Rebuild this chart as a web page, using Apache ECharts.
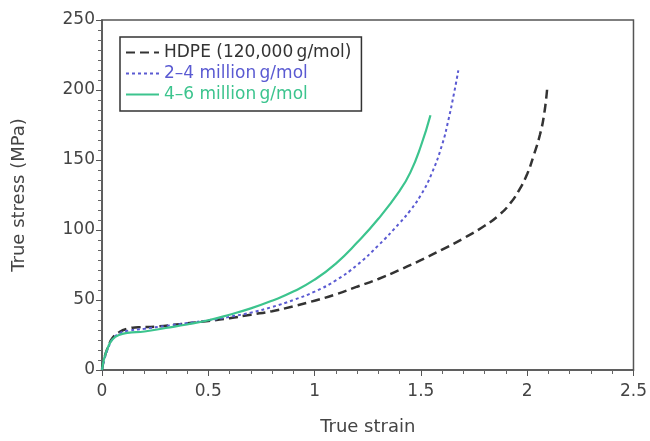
<!DOCTYPE html>
<html>
<head>
<meta charset="utf-8">
<script src="https://cdn.jsdelivr.net/npm/echarts@6/dist/echarts.min.js"></script>
<style>
  html, body { margin: 0; padding: 0; background: #fff; }
  #main { width: 650px; height: 441px; }
</style>
</head>
<body>
<div id="main"></div>
<script>
// curves: [true strain, true stress (MPa)]
const hdpe = [[0, 0], [0.01, 8], [0.03, 17], [0.05, 23], [0.08, 27], [0.12, 29.5], [0.17, 30.5],
  [0.25, 31], [0.35, 32.5], [0.5, 35], [0.6, 37], [0.7, 39.5], [0.8, 42], [0.9, 45.5],
  [1.0, 49.5], [1.1, 54], [1.2, 59.5], [1.3, 65], [1.4, 71.5], [1.5, 78.5], [1.6, 86],
  [1.7, 94], [1.8, 103], [1.87, 111], [1.92, 119], [1.96, 128], [2.0, 140], [2.03, 153],
  [2.06, 168], [2.08, 183], [2.094, 201]];
const mid = [[0, 0], [0.01, 7], [0.03, 16], [0.05, 22], [0.08, 26], [0.12, 28], [0.2, 29.5],
  [0.3, 31.5], [0.4, 33.5], [0.5, 35.5], [0.6, 38], [0.7, 41], [0.8, 45], [0.9, 50],
  [1.0, 56], [1.1, 64], [1.2, 75], [1.3, 89], [1.4, 105], [1.45, 114], [1.5, 125],
  [1.55, 140], [1.6, 161], [1.63, 179], [1.655, 197], [1.676, 214]];
const high = [[0, 0], [0.01, 8], [0.03, 17], [0.05, 22], [0.08, 25], [0.12, 26.5], [0.2, 27.5],
  [0.3, 30], [0.4, 32.5], [0.5, 35.5], [0.6, 39.5], [0.7, 44], [0.8, 49.5], [0.9, 56],
  [1.0, 64.5], [1.1, 76], [1.2, 91], [1.3, 108], [1.4, 128], [1.45, 141], [1.5, 160],
  [1.545, 182]];
const names = ['HDPE (120,000\u2009g/mol)', '2\u20134 million\u2009g/mol', '4\u20136 million\u2009g/mol'];
const colors = ['#333333', '#5a5ad2', '#3cc48e'];

const chart = echarts.init(document.getElementById('main'));
const font = 'DejaVu Sans';
const axisText = { color: '#444', fontSize: 17, fontFamily: font };

chart.setOption({
  animation: false,
  textStyle: { fontFamily: font },
  grid: { left: 102, right: 16, top: 20, bottom: 71, show: true, borderColor: '#555', borderWidth: 1.5 },
  legend: {
    orient: 'vertical',
    left: 120,
    top: 37,
    padding: [7, 10, 8, 5],
    itemGap: 4,
    itemWidth: 33,
    itemHeight: 14,
    borderColor: '#333',
    borderWidth: 1.5,
    itemStyle: { opacity: 0 },
    textStyle: { fontSize: 17, fontFamily: font },
    data: names.map((n, i) => ({ name: n, textStyle: { color: colors[i] } }))
  },
  xAxis: {
    type: 'value',
    min: 0,
    max: 2.5,
    interval: 0.5,
    name: 'True strain',
    nameLocation: 'middle',
    nameGap: 48,
    nameTextStyle: { color: '#444', fontSize: 18, fontFamily: font },
    axisLine: { lineStyle: { color: '#555', width: 1.5 } },
    axisTick: { show: true, length: 6, lineStyle: { color: '#555' } },
    minorTick: { show: true, splitNumber: 5, length: 4, lineStyle: { color: '#666' } },
    splitLine: { show: false },
    axisLabel: Object.assign({ margin: 13 }, axisText)
  },
  yAxis: {
    type: 'value',
    min: 0,
    max: 250,
    interval: 50,
    name: 'True stress (MPa)',
    nameLocation: 'middle',
    nameGap: 74,
    nameTextStyle: { color: '#444', fontSize: 18, fontFamily: font },
    axisLine: { show: true, lineStyle: { color: '#555', width: 1.5 } },
    axisTick: { show: true, length: 6, lineStyle: { color: '#555' } },
    minorTick: { show: true, splitNumber: 7, length: 4, lineStyle: { color: '#666' } },
    splitLine: { show: false },
    axisLabel: Object.assign({ margin: 7 }, axisText)
  },
  series: [
    {
      name: names[0], type: 'line', data: hdpe, smooth: 0.5, symbol: 'none',
      lineStyle: { color: colors[0], width: 2.5, type: [9, 5] }, itemStyle: { color: colors[0] }
    },
    {
      name: names[1], type: 'line', data: mid, smooth: 0.5, symbol: 'none',
      lineStyle: { color: colors[1], width: 2, type: [3, 3] }, itemStyle: { color: colors[1] }
    },
    {
      name: names[2], type: 'line', data: high, smooth: 0.5, symbol: 'none',
      lineStyle: { color: colors[2], width: 2.2 }, itemStyle: { color: colors[2] }
    }
  ]
});
</script>
</body>
</html>
